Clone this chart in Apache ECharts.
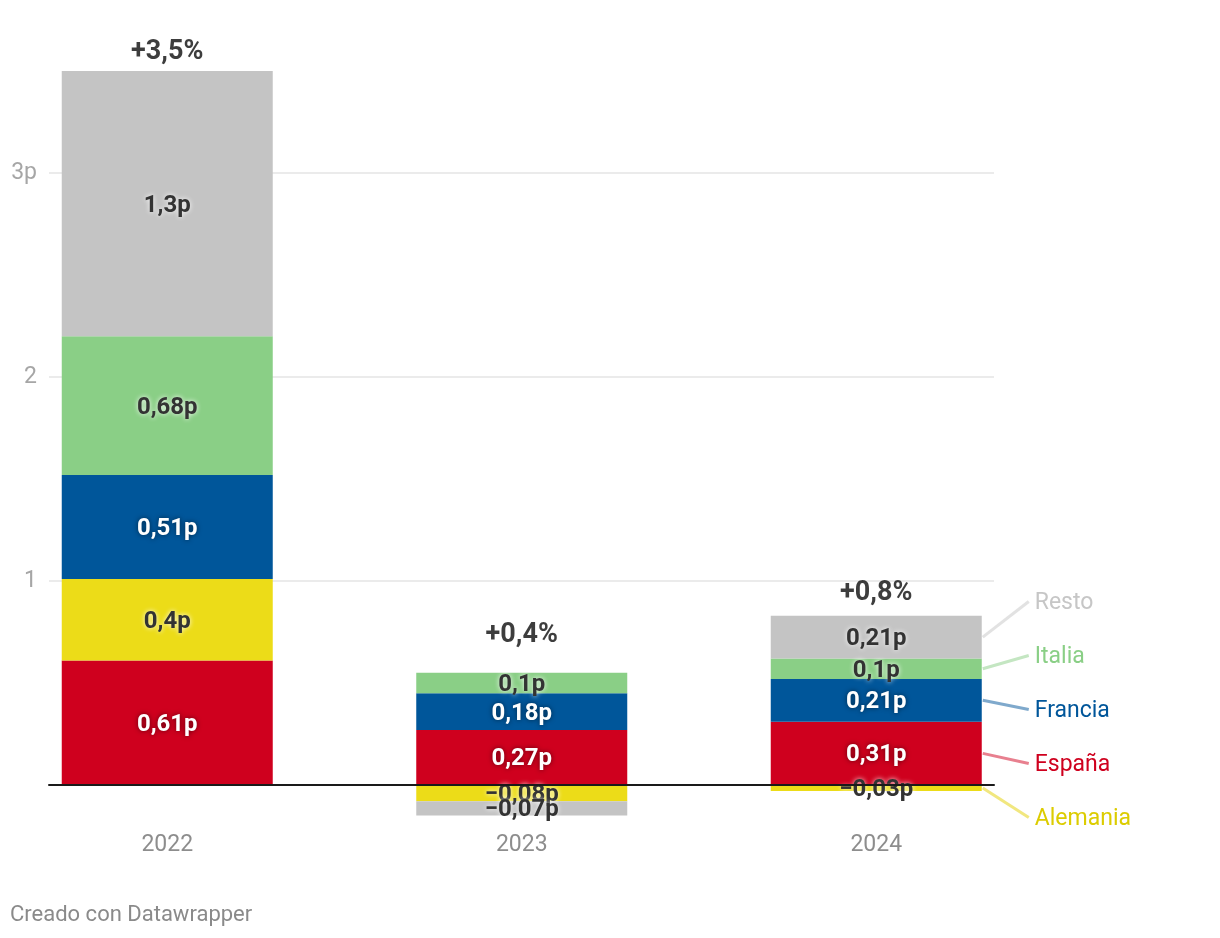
<!DOCTYPE html>
<html>
<head>
<meta charset="utf-8">
<script src="https://cdn.jsdelivr.net/npm/echarts@6/dist/echarts.min.js"></script>
<style>
  html, body { margin: 0; padding: 0; background: #ffffff; }
  #chart { width: 1220px; height: 938px; }
</style>
</head>
<body>
<div id="chart"></div>
<script>
// ---- data ----
const years = ['2022', '2023', '2024'];
const seriesNames = ['España', 'Alemania', 'Francia', 'Italia', 'Resto'];
const espana   = [0.61, 0.27, 0.31];
const alemania = [0.40, -0.08, -0.03];
const francia  = [0.51, 0.18, 0.21];
const italia   = [0.68, 0.10, 0.10];
const resto    = [1.30, -0.07, 0.21];
const totals   = ['+3,5%', '+0,4%', '+0,8%'];
const yTicks = [1, 2, 3];
const yTickLabels = ['1', '2', '3p'];
const footer = 'Creado con Datawrapper';

// ---- styles ----
const FONT = 'Roboto, "Noto Sans", sans-serif';
const barColors = ['#cf001e', '#ecdc18', '#00569a', '#8acf86', '#c4c4c4'];
const darkText = [false, true, false, true, true];
const nameTextColors = ['#cf001e', '#dccc00', '#00569a', '#8acf86', '#c6c6c6'];
const nameLineColors = ['#e8808f', '#f1e77f', '#7fa9cc', '#c4e6c2', '#e2e2e2'];
const BAR_W = 211;

const values = [espana, alemania, francia, italia, resto];

function fmt(v) {
  const s = Math.abs(v).toString().replace('.', ',') + 'p';
  return v < 0 ? '\u2212' + s : s;
}

const GRID_TOP = -31, GRID_BOTTOM = -51;

const barSeries = seriesNames.map((name, i) => ({
  name: name,
  type: 'bar',
  stack: 'total',
  xAxisIndex: 1,
  yAxisIndex: 1,
  barWidth: BAR_W,
  itemStyle: { color: barColors[i] },
  label: {
    show: true,
    position: 'inside',
    offset: [0, 2],
    formatter: p => fmt(p.value),
    fontFamily: FONT,
    fontSize: 24,
    fontWeight: 'bold',
    color: darkText[i] ? '#333333' : '#ffffff',
    textShadowColor: darkText[i] ? 'rgba(255,255,255,0.95)' : 'rgba(0,0,0,0.55)',
    textShadowBlur: 5
  },
  emphasis: { disabled: true },
  data: values[i]
}));

// positive stack tops (for the total labels)
const posTop = years.map((_, j) => values.reduce((s, arr) => s + (arr[j] > 0 ? arr[j] : 0), 0));
const totalDist = [5, 24, 9];

const option = {
  animation: false,
  backgroundColor: '#ffffff',
  grid: [
    { left: 49, right: 226, top: GRID_TOP, bottom: GRID_BOTTOM, outerBoundsMode: 'none', containLabel: false },
    { left: -10, right: 166.5, top: GRID_TOP, bottom: GRID_BOTTOM, outerBoundsMode: 'none', containLabel: false }
  ],
  xAxis: [
    {
      gridIndex: 0, type: 'value', min: 0, max: 1, z: 10,
      axisLine: { show: true, onZero: true, lineStyle: { color: '#1a1a1a', width: 2 } },
      axisTick: { show: false }, axisLabel: { show: false }, splitLine: { show: false }
    },
    {
      gridIndex: 1, type: 'category', data: years,
      axisLine: { show: false },
      axisTick: { show: false },
      axisLabel: { show: false },
      splitLine: { show: false }
    }
  ],
  yAxis: [
    {
      gridIndex: 0, type: 'value', min: -1, max: 4, interval: 1,
      axisLine: { show: false }, axisTick: { show: false },
      axisLabel: {
        color: '#a6a6a6', fontFamily: FONT, fontSize: 23, margin: 12,
        formatter: v => { const k = yTicks.indexOf(v); return k >= 0 ? yTickLabels[k] : ''; }
      },
      splitLine: { show: true, lineStyle: { color: '#e4e4e4', width: 1.5 } }
    },
    {
      gridIndex: 1, type: 'value', min: -1, max: 4, interval: 1, show: false,
      splitLine: { show: false }
    }
  ],
  series: barSeries.concat([{
    name: 'Total',
    type: 'scatter',
    xAxisIndex: 1,
    yAxisIndex: 1,
    symbolSize: 0,
    z: 5,
    silent: true,
    data: posTop.map((v, j) => ({
      value: v,
      label: { distance: totalDist[j] }
    })),
    label: {
      show: true,
      position: 'top',
      formatter: p => totals[p.dataIndex],
      fontFamily: FONT,
      fontSize: 27,
      fontWeight: 'bold',
      color: '#0d0d0d'
    }
  }, {
    // category labels under the zero line
    name: 'Años',
    type: 'scatter',
    xAxisIndex: 1,
    yAxisIndex: 1,
    symbolSize: 0,
    silent: true,
    data: years.map(() => 0),
    label: {
      show: true,
      position: 'bottom',
      distance: 49,
      formatter: p => years[p.dataIndex],
      fontFamily: FONT,
      fontSize: 23,
      color: '#707070'
    }
  }])
};

const chart = echarts.init(document.getElementById('chart'), null, { renderer: 'canvas' });
chart.setOption(option);

// ---- series name labels next to the last bar ----
const last = years.length - 1;
const mids = [];
let pos = 0, neg = 0;
seriesNames.forEach((name, i) => {
  const v = values[i][last];
  let mid;
  if (v >= 0) { mid = pos + v / 2; pos += v; } else { mid = neg + v / 2; neg += v; }
  mids.push(mid);
});
const midPx = mids.map(m => chart.convertToPixel({ xAxisIndex: 1, yAxisIndex: 1 }, [last, m]));
// order labels by vertical position (top first) and spread them evenly around their mean
const order = midPx.map((p, i) => i).sort((a, b) => midPx[a][1] - midPx[b][1]);
const meanY = midPx.reduce((s, p) => s + p[1], 0) / midPx.length;
const SPACING = 54;
const labelY = [];
order.forEach((idx, k) => { labelY[idx] = meanY + (k - (order.length - 1) / 2) * SPACING; });

const graphics = [];
seriesNames.forEach((name, i) => {
  const x0 = midPx[i][0] + BAR_W / 2 + 1;
  const y0 = midPx[i][1];
  graphics.push({
    type: 'line',
    shape: { x1: x0, y1: y0, x2: x0 + 46, y2: labelY[i] },
    style: { stroke: nameLineColors[i], lineWidth: 3 },
    silent: true
  });
  graphics.push({
    type: 'text',
    x: x0 + 52,
    y: labelY[i] + 2,
    style: {
      text: name, fill: nameTextColors[i], font: '23px ' + FONT,
      textAlign: 'left', textVerticalAlign: 'middle'
    },
    silent: true
  });
});
graphics.push({
  type: 'text', left: 10, top: 904,
  style: { text: footer, fill: '#8a8a8a', font: '22px ' + FONT },
  silent: true
});
chart.setOption({ graphic: graphics });
</script>
</body>
</html>
